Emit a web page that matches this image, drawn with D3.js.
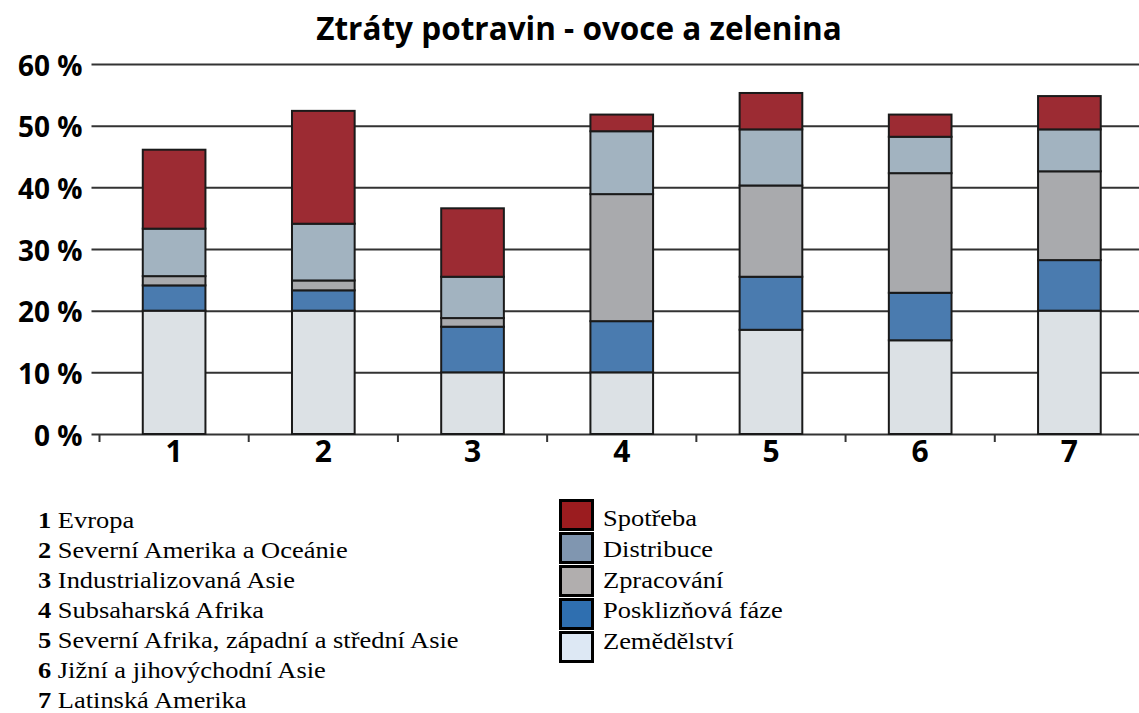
<!DOCTYPE html>
<html>
<head>
<meta charset="utf-8">
<title>Ztráty potravin - ovoce a zelenina</title>
<script src="https://cdn.jsdelivr.net/npm/d3@7"></script>
<style>
  body { margin: 0; background: #fff; }
  .axis text { font-family: "Open Sans", sans-serif; font-weight: bold; fill: #000; }
  .legend text { font-family: "Liberation Serif", "Times New Roman", serif; fill: #000; }
</style>
</head>
<body>
<div id="chart"></div>
<script>

// categories on the x axis and what they stand for
var categories = ["1", "2", "3", "4", "5", "6", "7"];
var regions = [
    "Evropa",
    "Severní Amerika a Oceánie",
    "Industrializovaná Asie",
    "Subsaharská Afrika",
    "Severní Afrika, západní a střední Asie",
    "Jižní a jihovýchodní Asie",
    "Latinská Amerika"
];

// stages, bottom to top of each bar
var stages = ["Zemědělství", "Posklizňová fáze", "Zpracování", "Distribuce", "Spotřeba"];

// losses in % per stage, one value per category
var zemedelstvi = [20, 20, 10, 10, 16.9, 15.2, 20];
var posklizn    = [4.1, 3.3, 7.4, 8.3, 8.6, 7.7, 8.2];
var zpracovani  = [1.5, 1.6, 1.4, 20.6, 14.8, 19.4, 14.4];
var distribuce  = [7.7, 9.2, 6.7, 10.2, 9.1, 5.9, 6.8];
var spotreba    = [12.8, 18.3, 11.1, 2.7, 5.9, 3.6, 5.4];

var yTicks = [0, 10, 20, 30, 40, 50, 60];

var barColors = ["#dce1e5", "#4a7baf", "#a9aaad", "#a2b3c0", "#9c2b33"];
var legendColors = ["#dde8f4", "#2f6fb0", "#b1aeae", "#8096b0", "#9b1c1f"];

var W = 1139, H = 713;
var plotLeft = 99.5, plotRight = 1144, plotTop = 64, plotBottom = 434;

var series = [zemedelstvi, posklizn, zpracovani, distribuce, spotreba];
var table = categories.map(function(c, i) {
    var row = { cat: c };
    stages.forEach(function(s, j) { row[s] = series[j][i]; });
    return row;
});

var svg = d3.select("#chart").append("svg")
    .attr("width", W)
    .attr("height", H);

var x = d3.scaleBand().domain(categories).range([plotLeft, plotRight]).padding(0);
var y = d3.scaleLinear().domain([0, 60]).range([plotBottom, plotTop]);

// title
svg.append("text")
    .attr("x", 579)
    .attr("y", 40)
    .attr("text-anchor", "middle")
    .style("font-family", "Open Sans, sans-serif")
    .style("font-weight", "bold")
    .style("font-size", "31.5px")
    .text("Ztráty potravin - ovoce a zelenina");

// y axis with grid lines
var yAxis = svg.append("g")
    .attr("class", "axis")
    .attr("transform", "translate(" + plotLeft + ",0)")
    .call(d3.axisLeft(y).tickValues(yTicks).tickSize(-(plotRight - plotLeft)).tickPadding(17)
        .tickFormat(function(d) { return d + " %"; }));
yAxis.select(".domain").remove();
yAxis.selectAll(".tick line")
    .attr("x1", -8)
    .attr("stroke", "#333")
    .attr("stroke-width", 2);
yAxis.selectAll(".tick text")
    .style("font-size", "28px")
    .attr("dy", "0.4em");

// stacked bars
var stacked = d3.stack().keys(stages)(table);
var barW = x.bandwidth() * 0.42;

svg.append("g").selectAll("g")
    .data(stacked)
    .enter().append("g")
        .attr("fill", function(d, i) { return barColors[i]; })
    .selectAll("rect")
    .data(function(d) { return d; })
    .enter().append("rect")
        .attr("x", function(d) { return x(d.data.cat) + (x.bandwidth() - barW) / 2; })
        .attr("y", function(d) { return y(d[1]); })
        .attr("width", barW)
        .attr("height", function(d) { return y(d[0]) - y(d[1]); })
        .attr("stroke", "#1a1a1a")
        .attr("stroke-width", 2);

// x axis: ticks between categories, labels centered
var xAxis = svg.append("g")
    .attr("class", "axis")
    .attr("transform", "translate(0," + plotBottom + ")");
xAxis.selectAll("line")
    .data(categories)
    .enter().append("line")
        .attr("x1", function(d) { return x(d); })
        .attr("x2", function(d) { return x(d); })
        .attr("y1", 0)
        .attr("y2", 8)
        .attr("stroke", "#333")
        .attr("stroke-width", 2);
xAxis.selectAll("text")
    .data(categories)
    .enter().append("text")
        .attr("x", function(d) { return x(d) + x.bandwidth() / 2; })
        .attr("y", 28)
        .attr("text-anchor", "middle")
        .style("font-size", "30px")
        .text(function(d) { return d; });

// region list
var list = svg.append("g").attr("class", "legend");
var rows = list.selectAll("g")
    .data(regions)
    .enter().append("g")
        .attr("transform", function(d, i) { return "translate(38," + (527.5 + i * 30.1) + ") scale(1.15,1)"; });
var t = rows.append("text").style("font-size", "23px");
t.append("tspan").style("font-weight", "bold").text(function(d, i) { return categories[i]; });
t.append("tspan").text(function(d) { return " " + d; });

// stage legend, top to bottom
var legendStages = stages.slice().reverse();
var legend = svg.append("g").attr("class", "legend");
legend.selectAll("rect")
    .data(legendStages)
    .enter().append("rect")
        .attr("x", 560.5)
        .attr("y", function(d, i) { return 500.5 + i * 33; })
        .attr("width", 32)
        .attr("height", 29)
        .attr("fill", function(d, i) { return legendColors[stages.length - 1 - i]; })
        .attr("stroke", "#000")
        .attr("stroke-width", 3);
legend.selectAll("text")
    .data(legendStages)
    .enter().append("text")
        .attr("transform", function(d, i) { return "translate(603," + (526 + i * 30.8) + ") scale(1.15,1)"; })
        .style("font-size", "23px")
        .text(function(d) { return d; });

</script>
</body>
</html>
